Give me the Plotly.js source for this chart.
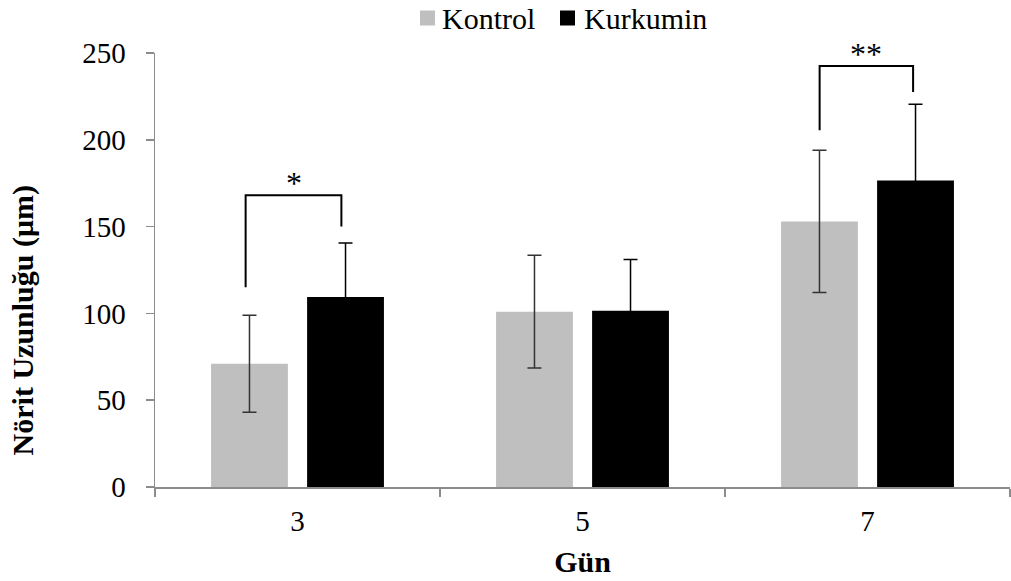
<!DOCTYPE html>
<html>
<head>
<meta charset="utf-8">
<script src="https://cdn.plot.ly/plotly-3.0.1.min.js"></script>
<style>html,body{margin:0;padding:0;background:#fff;}#chart{width:1011px;height:581px;}</style>
</head>
<body>
<div id="chart"></div>
<script>
const days = ['3', '5', '7'];
const kontrolValues = [71, 101, 153];
const kontrolErrors = [28, 32.5, 41];
const kurkuminValues = [109.5, 101.5, 176.5];
const kurkuminErrors = [31, 29.5, 44];
const seriesNames = ['Kontrol', 'Kurkumin'];
const seriesColors = ['#BFBFBF', '#000000'];
const yTickValues = [0, 50, 100, 150, 200, 250];
const xTitle = 'Gün';
const yTitle = 'Nörit Uzunluğu (μm)';

// significance brackets: category index, left/right offsets, y levels, label
const sigDay = [0, 2];
const sigLeftOffset = [-0.182, -0.168];
const sigRightOffset = [0.154, 0.160];
const sigLeftBottom = [115, 205.5];
const sigTop = [168, 242.5];
const sigRightBottom = [150, 227.5];
const sigLabels = ['*', '**'];

const FONT = '"Liberation Serif"';

// layout geometry (pixels)
const W = 1011, H = 581, ML = 155, MR = 1, MT = 53, MB = 94;
const PW = W - ML - MR, PH = H - MT - MB;
const px2x = p => (p - ML) / PW;
const py2y = p => (H - MB - p) / PH;
const legendSquareLeft = [420, 560];
const legendTextLeft = [440, 582];
const legendCenterY = 18, legendSquare = 15;

const traces = [
  {
    type: 'bar', name: seriesNames[0], x: days, y: kontrolValues,
    marker: {color: seriesColors[0]},
    error_y: {type: 'data', array: kontrolErrors, visible: true, color: '#333333', thickness: 1.5, width: 7}
  },
  {
    type: 'bar', name: seriesNames[1], x: days, y: kurkuminValues,
    marker: {color: seriesColors[1]},
    error_y: {type: 'data', array: kurkuminErrors, visible: true, color: '#000000', thickness: 1.5, width: 7}
  }
];

const shapes = [];
const annotations = [];
for (let i = 0; i < sigDay.length; i++) {
  const xl = sigDay[i] + sigLeftOffset[i];
  const xr = sigDay[i] + sigRightOffset[i];
  shapes.push({
    type: 'path', xref: 'x', yref: 'y',
    path: `M ${xl} ${sigLeftBottom[i]} L ${xl} ${sigTop[i]} L ${xr} ${sigTop[i]} L ${xr} ${sigRightBottom[i]}`,
    line: {color: '#000', width: 2}
  });
  annotations.push({
    xref: 'x', yref: 'y', x: (xl + xr) / 2, y: sigTop[i], yanchor: 'bottom',
    text: sigLabels[i], showarrow: false, yshift: -8,
    font: {family: FONT, size: 32, color: '#000'}
  });
}
// legend drawn as squares + text
for (let i = 0; i < seriesNames.length; i++) {
  shapes.push({
    type: 'rect', xref: 'paper', yref: 'paper',
    x0: px2x(legendSquareLeft[i]), x1: px2x(legendSquareLeft[i] + legendSquare),
    y0: py2y(legendCenterY + legendSquare / 2), y1: py2y(legendCenterY - legendSquare / 2),
    fillcolor: seriesColors[i], line: {width: 0}
  });
  annotations.push({
    xref: 'paper', yref: 'paper', x: px2x(legendTextLeft[i]), y: py2y(legendCenterY),
    xanchor: 'left', yanchor: 'middle', text: seriesNames[i], showarrow: false,
    font: {family: FONT, size: 30, color: '#000'}
  });
}
annotations.push({
  xref: 'paper', yref: 'paper', x: -0.155, y: 0.385, xanchor: 'center', yanchor: 'middle',
  text: '<b>' + yTitle + '</b>', textangle: -90, showarrow: false,
  font: {family: FONT, size: 30, color: '#000'}
});

const layout = {
  width: W, height: H,
  margin: {l: ML, r: MR, t: MT, b: MB, autoexpand: false},
  paper_bgcolor: '#fff', plot_bgcolor: '#fff',
  font: {family: FONT, size: 29, color: '#000'},
  barmode: 'group', bargap: 0.326, bargroupgap: 0.2,
  showlegend: false,
  xaxis: {
    type: 'category', showline: true, linecolor: '#8c8c8c', linewidth: 1.5,
    ticks: 'outside', tickson: 'boundaries', ticklen: 8, tickcolor: '#8c8c8c', tickwidth: 1.5,
    showgrid: false, zeroline: false, automargin: false, ticklabelstandoff: 8,
    tickfont: {family: FONT, size: 29, color: '#000'},
    title: {text: '<b>' + xTitle + '</b>', font: {family: FONT, size: 30, color: '#000'}, standoff: 14}
  },
  yaxis: {
    range: [0, 250], tickvals: yTickValues, showline: true, linecolor: '#8c8c8c', linewidth: 1.5,
    ticks: 'outside', ticklen: 8, tickcolor: '#8c8c8c', tickwidth: 1.5,
    showgrid: false, zeroline: false, automargin: false, ticklabelstandoff: 14,
    tickfont: {family: FONT, size: 29, color: '#000'}
  },
  shapes: shapes,
  annotations: annotations
};

Plotly.newPlot('chart', traces, layout, {displayModeBar: false, staticPlot: true});
</script>
</body>
</html>
